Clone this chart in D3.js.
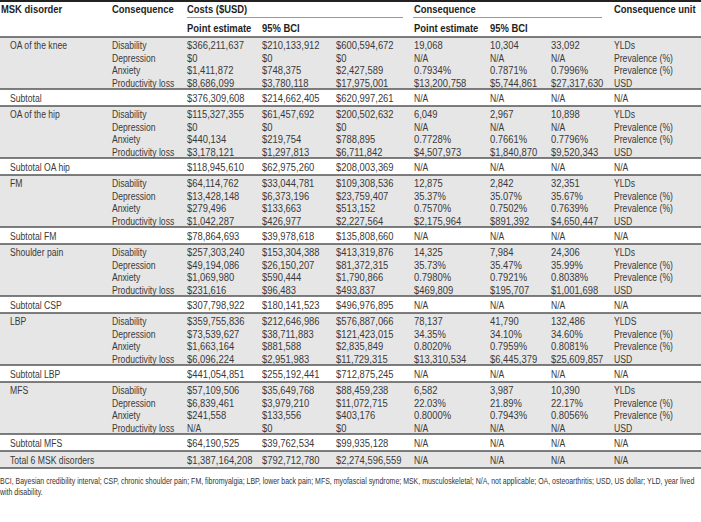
<!DOCTYPE html>
<html><head><meta charset="utf-8">
<script src="https://cdn.jsdelivr.net/npm/d3@7"></script>
<style>
html,body{margin:0;padding:0;background:#fff;}
svg{display:block;}
text{font-family:"Liberation Sans",Arial,sans-serif;}
</style></head>
<body><svg id="c" width="701" height="522"></svg>
<script>
// ---------- data ----------
const headers1 = ["MSK disorder","Consequence","Costs ($USD)","Consequence","Consequence unit"];
const headers2 = ["Point estimate","95% BCI","Point estimate","95% BCI"];
const disorders = ["OA of the knee","OA of the hip","FM","Shoulder pain","LBP","MFS"];
const subtotalLabels = ["Subtotal","Subtotal OA hip","Subtotal FM","Subtotal CSP","Subtotal LBP","Subtotal MFS"];
const consequences = ["Disability","Depression","Anxiety","Productivity loss"];
const costPoint = [
  ["$366,211,637","$0","$1,411,872","$8,686,099"],
  ["$115,327,355","$0","$440,134","$3,178,121"],
  ["$64,114,762","$13,428,148","$279,496","$1,042,287"],
  ["$257,303,240","$49,194,086","$1,069,980","$231,616"],
  ["$359,755,836","$73,539,627","$1,663,164","$6,096,224"],
  ["$57,109,506","$6,839,461","$241,558","N/A"]];
const costLow = [
  ["$210,133,912","$0","$748,375","$3,780,118"],
  ["$61,457,692","$0","$219,754","$1,297,813"],
  ["$33,044,781","$6,373,196","$133,663","$426,977"],
  ["$153,304,388","$26,150,207","$590,444","$96,483"],
  ["$212,646,986","$38,711,883","$881,588","$2,951,983"],
  ["$35,649,768","$3,979,210","$133,556","$0"]];
const costHigh = [
  ["$600,594,672","$0","$2,427,589","$17,975,001"],
  ["$200,502,632","$0","$788,895","$6,711,842"],
  ["$109,308,536","$23,759,407","$513,152","$2,227,564"],
  ["$413,319,876","$81,372,315","$1,790,866","$493,837"],
  ["$576,887,066","$121,423,015","$2,835,849","$11,729,315"],
  ["$88,459,238","$11,072,715","$403,176","$0"]];
const consPoint = [
  ["19,068","N/A","0.7934%","$13,200,758"],
  ["6,049","N/A","0.7728%","$4,507,973"],
  ["12,875","35.37%","0.7570%","$2,175,964"],
  ["14,325","35.73%","0.7980%","$469,809"],
  ["78,137","34.35%","0.8020%","$13,310,534"],
  ["6,582","22.03%","0.8000%","N/A"]];
const consLow = [
  ["10,304","N/A","0.7871%","$5,744,861"],
  ["2,967","N/A","0.7661%","$1,840,870"],
  ["2,842","35.07%","0.7502%","$891,392"],
  ["7,984","35.47%","0.7921%","$195,707"],
  ["41,790","34.10%","0.7959%","$6,445,379"],
  ["3,987","21.89%","0.7943%","N/A"]];
const consHigh = [
  ["33,092","N/A","0.7996%","$27,317,630"],
  ["10,898","N/A","0.7796%","$9,520,343"],
  ["32,351","35.67%","0.7639%","$4,650,447"],
  ["24,306","35.99%","0.8038%","$1,001,698"],
  ["132,486","34.60%","0.8081%","$25,609,857"],
  ["10,390","22.17%","0.8056%","N/A"]];
const units = [
  ["YLDs","Prevalence (%)","Prevalence (%)","USD"],
  ["YLDs","Prevalence (%)","Prevalence (%)","USD"],
  ["YLDs","Prevalence (%)","Prevalence (%)","USD"],
  ["YLDs","Prevalence (%)","Prevalence (%)","USD"],
  ["YLDS","Prevalence (%)","Prevalence (%)","USD"],
  ["YLDs","Prevalence (%)","Prevalence (%)","USD"]];
const subtotalPoint = ["$376,309,608","$118,945,610","$78,864,693","$307,798,922","$441,054,851","$64,190,525"];
const subtotalLow = ["$214,662,405","$62,975,260","$39,978,618","$180,141,523","$255,192,441","$39,762,534"];
const subtotalHigh = ["$620,997,261","$208,003,369","$135,808,660","$496,976,895","$712,875,245","$99,935,128"];
const totalLabel = "Total 6 MSK disorders";
const totalValues = ["$1,387,164,208","$792,712,780","$2,274,596,559"];
const notApplicable = "N/A";
const footnote = ["BCI, Bayesian credibility interval; CSP, chronic shoulder pain; FM, fibromyalgia; LBP, lower back pain; MFS, myofascial syndrome; MSK, musculoskeletal; N/A, not applicable; OA, osteoarthritis; USD, US dollar; YLD, year lived",
  "with disability."];

// ---------- layout ----------
const W = 701;
const cols = ["dis","cons","cp","cl","ch","qp","ql","qh","unit"];
const x = d3.scaleOrdinal().domain(cols).range([10,112,187,262,336,414,490,551,614]);
const headTop = 37, groupH = 52, subH = 17;
const blockY = d3.scaleLinear().domain([0,1]).range([headTop, headTop+groupH+subH]);
const lineY = d3.scaleLinear().domain([0,1]).range([8.3, 20.8]);
const SXN = 0.82, SXT = 0.75, fs = 11.5;

const svg = d3.select("#c");
svg.append("rect").attr("width",W).attr("height",522).attr("fill","#fff");

const bg = "#e6e6e6", txt = "#3a3a3a";
const g = svg.append("g");

const cells = [];
disorders.forEach((d,k)=>{
  const top = blockY(k);
  g.append("rect").attr("x",0).attr("y",top).attr("width",W).attr("height",groupH).attr("fill",bg);
  cells.push({c:"dis",y:top+lineY(0),t:d});
  consequences.forEach((c,i)=>{
    const y = top+lineY(i);
    cells.push({c:"cons",y,t:c});
    cells.push({c:"cp",y,t:costPoint[k][i]});
    cells.push({c:"cl",y,t:costLow[k][i]});
    cells.push({c:"ch",y,t:costHigh[k][i]});
    cells.push({c:"qp",y,t:consPoint[k][i]});
    cells.push({c:"ql",y,t:consLow[k][i]});
    cells.push({c:"qh",y,t:consHigh[k][i]});
    cells.push({c:"unit",y,t:units[k][i]});
  });
  const sy = top+groupH+subH/2+0.5;
  cells.push({c:"dis",y:sy,t:subtotalLabels[k]});
  cells.push({c:"cp",y:sy,t:subtotalPoint[k]});
  cells.push({c:"cl",y:sy,t:subtotalLow[k]});
  cells.push({c:"ch",y:sy,t:subtotalHigh[k]});
  ["qp","ql","qh","unit"].forEach(c=>cells.push({c,y:sy,t:notApplicable}));
});
const totTop = blockY(disorders.length);
g.append("rect").attr("x",0).attr("y",totTop).attr("width",W).attr("height",subH).attr("fill",bg);
const ty = totTop+subH/2+0.5;
cells.push({c:"dis",y:ty,t:totalLabel});
cells.push({c:"cp",y:ty,t:totalValues[0]});
cells.push({c:"cl",y:ty,t:totalValues[1]});
cells.push({c:"ch",y:ty,t:totalValues[2]});
["qp","ql","qh","unit"].forEach(c=>cells.push({c,y:ty,t:notApplicable}));

function place(sel, fx, fy, sx){
  sel.attr("transform",(d,i)=>`translate(${fx(d,i)},${fy(d,i)}) scale(${sx(d)},1)`)
     .attr("dy","0.35em").attr("font-size",fs);
}
const isNum = t => /^[\$\d]/.test(t);
g.selectAll("text.cell").data(cells).join("text").attr("class","cell")
  .call(place, d=>x(d.c), d=>d.y, d=>isNum(d.t)?SXN:SXT).attr("fill",txt).text(d=>d.t);

// header
const hx = [1, x("cons"), x("cp"), x("qp"), x("unit")];
svg.selectAll("text.h1").data(headers1).join("text").attr("class","h1")
  .call(place,(d,i)=>hx[i],()=>9,()=>SXN).attr("font-weight","bold").attr("fill","#1e1e1e").text(d=>d);
const h2x = [x("cp"),x("cl"),x("qp"),x("ql")];
svg.selectAll("text.h2").data(headers2).join("text").attr("class","h2")
  .call(place,(d,i)=>h2x[i],()=>28,()=>SXN).attr("font-weight","bold").attr("fill","#1e1e1e").text(d=>d);

// lines
svg.append("line").attr("x1",0).attr("x2",W).attr("y1",1).attr("y2",1).attr("stroke","#222").attr("stroke-width",2);
svg.append("line").attr("x1",x("cp")).attr("x2",403).attr("y1",17.5).attr("y2",17.5).attr("stroke","#999").attr("stroke-width",1);
svg.append("line").attr("x1",x("qp")-1).attr("x2",602).attr("y1",17.5).attr("y2",17.5).attr("stroke","#999").attr("stroke-width",1);
const hl = [headTop];
disorders.forEach((d,k)=>{ hl.push(blockY(k)+groupH); hl.push(blockY(k+1)); });
hl.push(totTop+subH);
svg.selectAll("line.sep").data(hl).join("line").attr("class","sep")
  .attr("x1",0).attr("x2",W).attr("y1",d=>d).attr("y2",d=>d)
  .attr("stroke","#555").attr("stroke-width",1.6);

// footnote (first line fitted to the page width, second line at the same compression)
const fnSize = 8.2;
const fn = svg.selectAll("text.fn").data(footnote).join("text").attr("class","fn")
  .attr("font-size",fnSize).attr("fill","#333").text(d=>d);
const natural = fn.nodes()[0].getComputedTextLength();
const k = 694 / natural;
fn.attr("transform",(d,i)=>`translate(0,${481+i*11}) scale(${k},1)`).attr("dy","0.35em");
</script></body></html>
